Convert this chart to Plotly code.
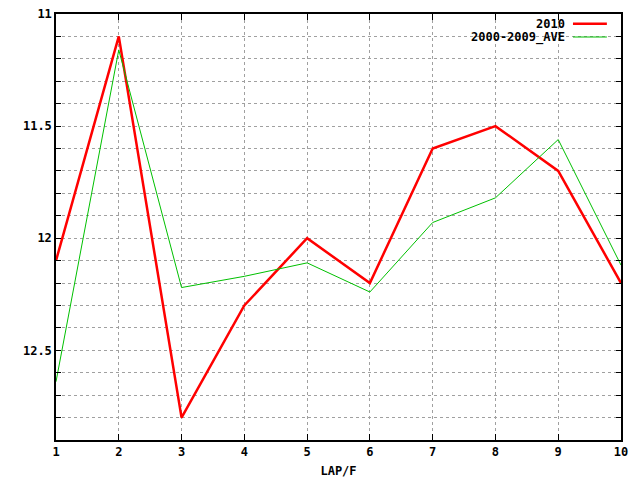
import plotly.graph_objects as go

laps = [1, 2, 3, 4, 5, 6, 7, 8, 9, 10]
y2010 = [12.10, 11.10, 12.80, 12.30, 12.00, 12.20, 11.60, 11.50, 11.70, 12.20]
y_ave = [12.64, 11.16, 12.22, 12.17, 12.11, 12.24, 11.93, 11.82, 11.56, 12.12]

y_ticks = [round(11 + 0.1 * i, 1) for i in range(19)]
y_labels = ["11", "", "", "", "", "11.5", "", "", "", "", "12", "", "", "", "", "12.5", "", "", ""]

font = dict(family="DejaVu Sans Mono", size=12, color="black")

fig = go.Figure()
fig.add_trace(go.Scatter(x=laps, y=y2010, mode="lines", name="2010",
                         line=dict(color="#ff0000", width=2.5)))
fig.add_trace(go.Scatter(x=laps, y=y_ave, mode="lines", name="2000-2009_AVE",
                         line=dict(color="#00c000", width=1)))

# legend drawn gnuplot-style: text first, sample to the right
legend_rows = [("2010", "#ff0000", 2.5, 0.977), ("2000-2009_AVE", "#00c000", 1, 0.946)]
for text, color, width, yp in legend_rows:
    fig.add_annotation(x=0.902, y=yp, xref="paper", yref="paper", text="<b>%s</b>" % text,
                       showarrow=False, xanchor="right", yanchor="middle",
                       font=dict(family="DejaVu Sans Mono", size=12, color="black"),
                       borderpad=0)
    fig.add_shape(type="line", xref="paper", yref="paper", x0=0.915, x1=0.975, y0=yp, y1=yp,
                  line=dict(color=color, width=width))

fig.update_layout(
    width=640, height=480,
    margin=dict(l=56, r=19, t=14, b=40),
    paper_bgcolor="white", plot_bgcolor="white",
    showlegend=False,
    font=font,
)
fig.update_xaxes(
    range=[1, 10], tickvals=laps, ticktext=["<b>%d</b>" % v for v in laps],
    ticks="inside", ticklen=6, tickcolor="black", mirror="ticks",
    showline=True, linecolor="black", linewidth=1.5,
    showgrid=True, gridcolor="#a0a0a0", griddash="dot", gridwidth=1,
    zeroline=False, automargin=False,
    title=dict(text="<b>LAP/F</b>", font=font, standoff=8),
)
fig.update_yaxes(
    range=[12.9, 11], tickvals=y_ticks,
    ticktext=["<b>%s</b>" % t if t else "" for t in y_labels],
    ticks="inside", ticklen=5, tickcolor="black", mirror="ticks",
    showline=True, linecolor="black", linewidth=1.5,
    showgrid=True, gridcolor="#a0a0a0", griddash="dot", gridwidth=1,
    zeroline=False, automargin=False,
)

# drop the page's default body margin so the figure sits at the window corner
fig.write_html("out.html", config={"displayModeBar": False},
               post_script="document.body.style.margin = '0';")
